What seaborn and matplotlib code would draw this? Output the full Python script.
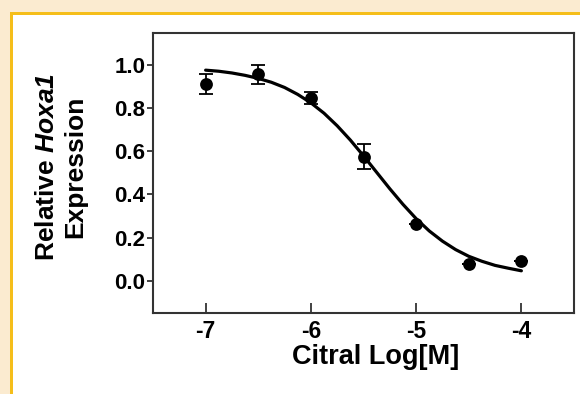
import numpy as np
import pandas as pd
import matplotlib
matplotlib.use("Agg")
import matplotlib.pyplot as plt
from matplotlib.patches import Rectangle
import seaborn as sns

# Data
log_conc = [-7.0, -6.5, -6.0, -5.5, -5.0, -4.5, -4.0]
rel_expr = [0.911, 0.954, 0.845, 0.575, 0.262, 0.080, 0.093]
expr_err = [0.046, 0.042, 0.026, 0.056, 0.0, 0.0, 0.0]

# Fitted dose-response curve
fit_x = [-7.0, -6.875, -6.75, -6.625, -6.5, -6.375, -6.25, -6.125, -6.0,
         -5.875, -5.75, -5.625, -5.5, -5.375, -5.25, -5.125, -5.0,
         -4.875, -4.75, -4.625, -4.5, -4.375, -4.25, -4.125, -4.0]
fit_y = [0.974, 0.969, 0.961, 0.950, 0.936, 0.918, 0.894, 0.862, 0.823,
         0.775, 0.717, 0.651, 0.578, 0.502, 0.426, 0.354, 0.288,
         0.231, 0.184, 0.145, 0.114, 0.091, 0.072, 0.059, 0.047]

x_ticks = [-7, -6, -5, -4]
y_ticks = [0.0, 0.2, 0.4, 0.6, 0.8, 1.0]

sns.set_style("ticks")
plt.rcParams["font.family"] = ["Liberation Sans", "DejaVu Sans"]
plt.rcParams["font.weight"] = "bold"
plt.rcParams["text.color"] = "black"
plt.rcParams["mathtext.fontset"] = "custom"
plt.rcParams["mathtext.rm"] = "Liberation Sans:italic:bold"
plt.rcParams["mathtext.it"] = "Liberation Sans:italic:bold"

W, H = 580, 394
fig = plt.figure(figsize=(W / 100, H / 100), dpi=100)
fig.patch.set_facecolor("#FBEBD0")
# white panel with yellow border on top/left
fig.patches.append(Rectangle((11 / W, 0), 1, 1 - 13 / H, transform=fig.transFigure,
                             facecolor="white", edgecolor="none", zorder=0))
fig.patches.append(Rectangle((10 / W, 0), 3 / W, 1 - 12 / H, transform=fig.transFigure,
                             facecolor="#F5BE1A", edgecolor="none", zorder=1))
fig.patches.append(Rectangle((10 / W, 1 - 15 / H), 1, 3 / H, transform=fig.transFigure,
                             facecolor="#F5BE1A", edgecolor="none", zorder=1))

ax = fig.add_axes([153 / W, 1 - 313 / H, (574 - 153) / W, (313 - 32.5) / H])
ax.set_zorder(3)
ax.set_facecolor("white")

df = pd.DataFrame({"x": log_conc, "y": rel_expr, "err": expr_err})
fit = pd.DataFrame({"x": fit_x, "y": fit_y})

sns.lineplot(data=fit, x="x", y="y", ax=ax, color="black", linewidth=2.3, zorder=2)
ax.errorbar(df["x"], df["y"], yerr=df["err"], fmt="none", ecolor="black",
            elinewidth=1.3, capsize=4.8, capthick=1.3, zorder=3)
sns.scatterplot(data=df, x="x", y="y", ax=ax, color="black", s=85,
                edgecolor="black", linewidth=0, zorder=4)

ax.set_xlim(-7.5, -3.5)
ax.set_ylim(-0.148, 1.148)
ax.set_xticks(x_ticks)
ax.set_xticklabels([str(t) for t in x_ticks])
ax.set_yticks(y_ticks)
ax.set_yticklabels([f"{t:.1f}" for t in y_ticks])
ax.tick_params(axis="x", direction="in", length=7, width=1.3, colors="#333333",
               labelcolor="black", labelsize=16.5, pad=5)
ax.tick_params(axis="y", direction="out", length=4, width=1.3, colors="#333333",
               labelcolor="black", labelsize=16, pad=1.5)
for lab in ax.get_xticklabels() + ax.get_yticklabels():
    lab.set_fontweight("bold")
for sp in ax.spines.values():
    sp.set_visible(True)
    sp.set_color("#333333")
    sp.set_linewidth(1.5)
ax.set_xlabel("")
ax.set_ylabel("")

fig.text(376 / W, 1 - 357 / H, "Citral Log[M]", ha="center", va="center",
         fontsize=19.5, fontweight="bold", color="black")
fig.text(61 / W, 1 - 167 / H, "Relative $\\mathrm{Hoxa1}$\nExpression", ha="center",
         va="center", rotation=90, fontsize=19, fontweight="bold", color="black",
         multialignment="center", linespacing=1.25)

fig.savefig("out.png", dpi=100, facecolor=fig.get_facecolor())
